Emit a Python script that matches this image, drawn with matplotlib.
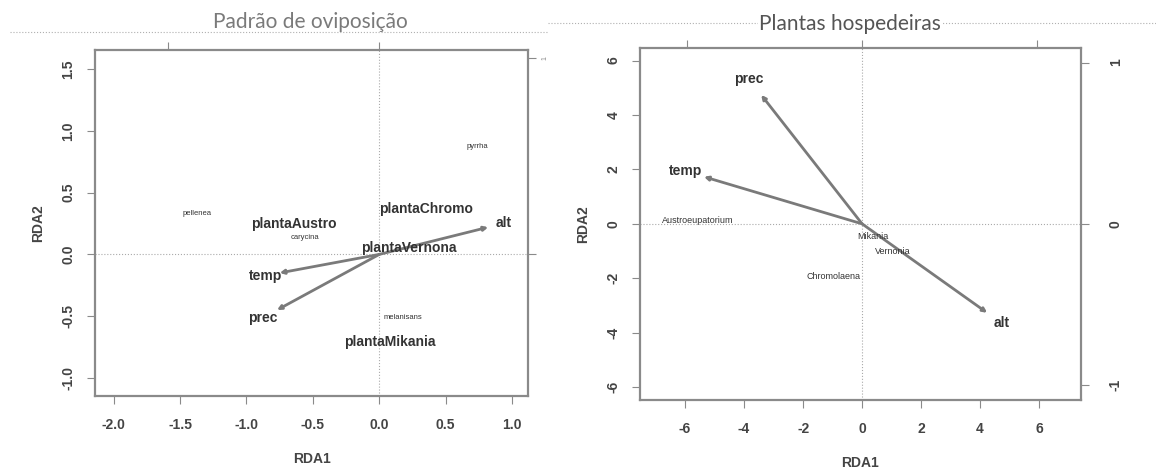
import matplotlib.pyplot as plt
from matplotlib.lines import Line2D

# --- left panel: Padrão de oviposição ---
env_names = ['alt', 'temp', 'prec']
left_env_x = [0.82, -0.75, -0.77]
left_env_y = [0.22, -0.15, -0.45]

left_cent_names = ['plantaAustro', 'plantaChromo', 'plantaVernona', 'plantaMikania']
left_cent_x = [-0.64, 0.35, 0.22, 0.08]
left_cent_y = [0.25, 0.37, 0.05, -0.71]

left_sp_names = ['pyrrha', 'pellenea', 'carycina', 'melanisans']
left_sp_x = [0.74, -1.37, -0.56, 0.18]
left_sp_y = [0.87, 0.33, 0.14, -0.51]

left_xticks = [-2.0, -1.5, -1.0, -0.5, 0.0, 0.5, 1.0]
left_yticks = [-1.0, -0.5, 0.0, 0.5, 1.0, 1.5]

# --- right panel: Plantas hospedeiras ---
right_env_x = [4.24, -5.36, -3.42]
right_env_y = [-3.27, 1.73, 4.74]

right_sp_names = ['Austroeupatorium', 'Mikania', 'Vernonia', 'Chromolaena']
right_sp_x = [-5.56, 0.37, 1.05, -0.98]
right_sp_y = [0.11, -0.48, -1.00, -1.95]

right_xticks = [-6, -4, -2, 0, 2, 4, 6]
right_yticks = [-6, -4, -2, 0, 2, 4, 6]
right_sec_ticks = [-1, 0, 1]

plt.rcParams['font.family'] = ['Liberation Sans', 'DejaVu Sans']

fig = plt.figure(figsize=(11.56, 4.76), dpi=100)
ax1 = fig.add_axes([0.0822, 0.168, 0.3746, 0.727])
ax2 = fig.add_axes([0.5536, 0.160, 0.3815, 0.7395])

GRAY = '#8a8a8a'
TXT = '#333333'


def style_axes(ax, xticks, yticks, xlim, ylim, xfmt):
    ax.set_xlim(*xlim)
    ax.set_ylim(*ylim)
    ax.set_xticks(xticks)
    ax.set_yticks(yticks)
    ax.set_xticklabels([xfmt(v) for v in xticks], fontweight='bold')
    ax.set_yticklabels([xfmt(v) for v in yticks], rotation=90, va='center',
                       fontweight='bold')
    for s in ax.spines.values():
        s.set_color(GRAY)
        s.set_linewidth(1.6)
    ax.tick_params(axis='both', colors=GRAY, length=6, width=0.8,
                   labelsize=10, labelcolor='#444444')
    ax.tick_params(axis='x', pad=10)
    ax.tick_params(axis='y', pad=8)
    ax.axhline(0, color='#aaaaaa', lw=0.8, ls=':', zorder=0)
    ax.axvline(0, color='#aaaaaa', lw=0.8, ls=':', zorder=0)
    ax.set_xlabel('RDA1', fontsize=10, color='#444444', labelpad=14,
                  fontweight='bold')
    ax.set_ylabel('RDA2', fontsize=10, color='#444444', labelpad=12,
                  fontweight='bold')


def draw_arrows(ax, xs, ys, names, mult, fs):
    for x, y, n in zip(xs, ys, names):
        ax.annotate('', xy=(x, y), xytext=(0, 0),
                    arrowprops=dict(arrowstyle='-|>', color='#7a7a7a', lw=2,
                                    mutation_scale=6, shrinkA=0, shrinkB=0))
        ax.text(x * mult, y * mult, n, fontsize=fs, color=TXT,
                ha='center', va='center', fontweight='bold')


# left panel
style_axes(ax1, left_xticks, left_yticks, (-2.14, 1.12), (-1.146, 1.654),
           lambda v: f'{v:.1f}')
draw_arrows(ax1, left_env_x, left_env_y, env_names, 1.14, 10)
for x, y, n in zip(left_cent_x, left_cent_y, left_cent_names):
    ax1.text(x, y, n, fontsize=10, color=TXT, ha='center', va='center',
             fontweight='bold')
for x, y, n in zip(left_sp_x, left_sp_y, left_sp_names):
    ax1.text(x, y, n, fontsize=5.5, color=TXT, ha='center', va='center')
s1 = 1.59
sx1 = ax1.secondary_xaxis('top', functions=(lambda v: v / s1, lambda v: v * s1))
sx1.set_xticks([-1, 0])
sx1.set_xticklabels(['', ''])
sy1 = ax1.secondary_yaxis('right', functions=(lambda v: v / s1, lambda v: v * s1))
sy1.set_yticks([0, 1])
sy1.set_yticklabels(['', '1'], rotation=90, va='center')
for sa in (sx1, sy1):
    sa.tick_params(colors=GRAY, length=6, width=0.8, labelsize=5, labelcolor='#888888')
    for s in sa.spines.values():
        s.set_visible(False)

# right panel
style_axes(ax2, right_xticks, right_yticks, (-7.53, 7.42), (-6.47, 6.47),
           lambda v: f'{v:d}')
draw_arrows(ax2, right_env_x, right_env_y, env_names, 1.12, 10)
for x, y, n in zip(right_sp_x, right_sp_y, right_sp_names):
    ax2.text(x, y, n, fontsize=6.5, color=TXT, ha='center', va='center')
s2 = 5.93
sx2 = ax2.secondary_xaxis('top', functions=(lambda v: v / s2, lambda v: v * s2))
sx2.set_xticks(right_sec_ticks)
sx2.set_xticklabels(['', '', ''])
sy2 = ax2.secondary_yaxis('right', functions=(lambda v: v / s2, lambda v: v * s2))
sy2.set_yticks(right_sec_ticks)
sy2.set_yticklabels([str(v) for v in right_sec_ticks], rotation=90, va='center',
                    fontweight='bold')
for sa in (sx2, sy2):
    sa.tick_params(colors=GRAY, length=6, width=0.8, labelsize=10,
                   labelcolor='#444444', pad=14)
    for s in sa.spines.values():
        s.set_visible(False)

# slide-style titles with dotted rules
fig.add_artist(Line2D([10 / 1156, 548 / 1156], [1 - 32 / 476] * 2,
                      color='#b0b0b0', lw=0.8, ls=':'))
fig.add_artist(Line2D([548 / 1156, 1.0], [1 - 23 / 476] * 2,
                      color='#b0b0b0', lw=0.8, ls=':'))
fig.text(310 / 1156, 1 - 22 / 476, 'Padrão de oviposição', family='Lato',
         fontsize=15, color='#7a7a7a', ha='center', va='center')
fig.text(850 / 1156, 1 - 24 / 476, 'Plantas hospedeiras', family='Lato',
         fontsize=15, color='#555555', ha='center', va='center',
         bbox=dict(facecolor='white', edgecolor='none', pad=1))

fig.savefig('out.png', dpi=100)
